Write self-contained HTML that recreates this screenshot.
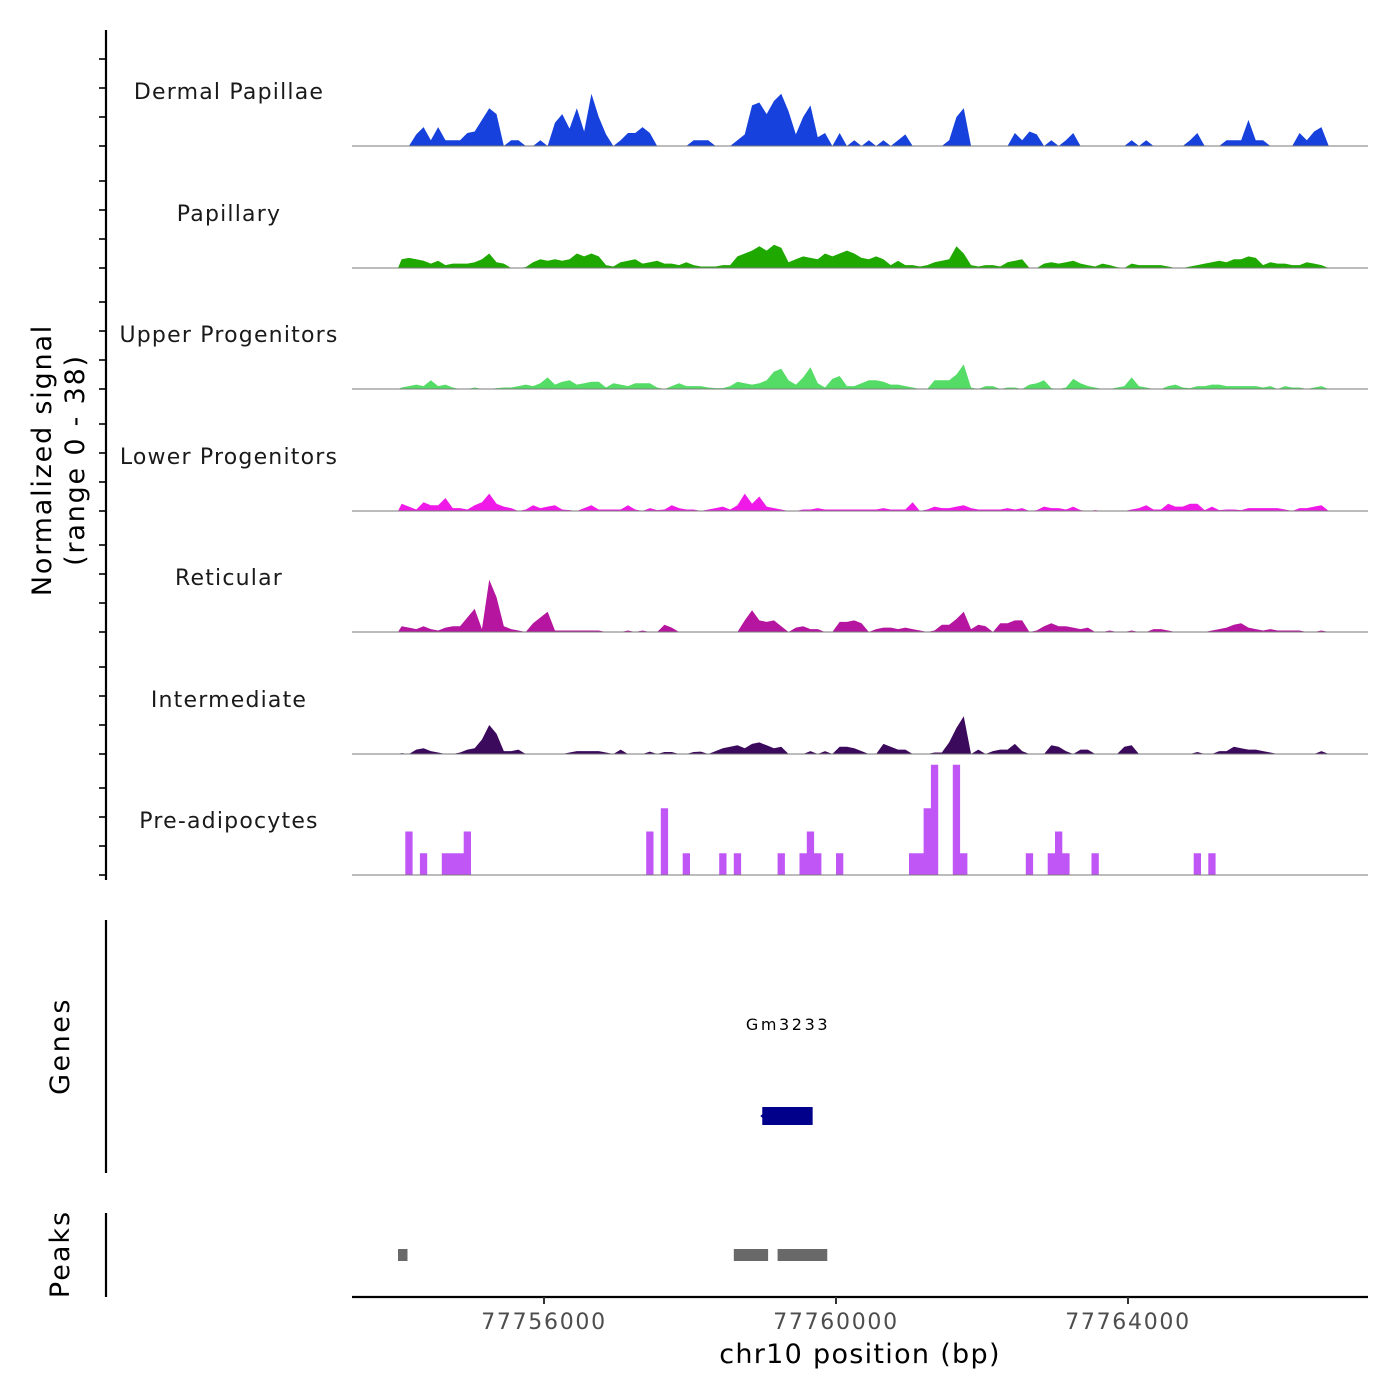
<!DOCTYPE html>
<html><head><meta charset="utf-8"><style>
html,body{margin:0;padding:0;background:#fff;}
svg{display:block;font-family:"DejaVu Sans","Liberation Sans",sans-serif;}
</style></head><body>
<svg id="chart" width="1400" height="1400" viewBox="0 0 1400 1400">
<g id="tracks"></g>
<g id="axes"></g>
</svg>
<script>
const binStart = 77754000;
const binSize = 100;
const trackNames = ["Dermal Papillae","Papillary","Upper Progenitors","Lower Progenitors","Reticular","Intermediate","Pre-adipocytes"];
const xTicks = [77756000, 77760000, 77764000];
const xTickLabels = ["77756000","77760000","77764000"];
const dermal = [0,0,4,6.5,2,6.5,2,2,2,4.5,5,9,13,11,0,2,2,0,0,2,0,8,11,6,13,5,18,10,4,0,2,4.5,4.5,6.5,4.5,0,0,0,0,0,2,2,2,0,0,0,2,4,14,15,11,15.5,18,12,4,10,14,3,4.5,0,4.5,0,2,0,2,0,2,0,2,4,0,0,0,0,0,2,10,13,0,0,0,0,0,0,4.5,2,5,4,0,2,0,2,4.5,0,0,0,0,0,0,0,2,0,2,0,0,0,0,0,2,4.5,0,0,0,2,2,2,9,2,2,0,0,0,0,4.5,2,5,6.5,0];
const papillary = [3,3.5,3,2.5,1.5,2.5,1,1.5,1.5,1.5,2,3,5,2,1.5,0,0,0.3,2,3,2.5,3,2.5,3,5,4,5,4,1,0.5,2,2.5,3,1.5,2,2.5,1.5,1.5,1,2,1,0.5,0.5,0.5,1,1,4,5,6,7.5,6,8,7,2,3,4,3.5,3,5,4,5,6,5,3.5,3,4,3,1,2.5,1,1,0.5,1,2,2.5,3,7.5,5,1,0.5,1,1,0.5,2,2.5,3,0,0,1.5,2,1.5,2,2.5,1.5,1,0.5,1.5,1,0.3,0,1.5,1,1,1,1,0.5,0,0,0.5,1,1.5,2,2.5,2,3,3,4,3.5,1,2,1.5,1.5,1,1,2,1.5,1,0];
const upper = [0.5,1,1.5,1,3,1,1.5,0.5,0,0,0.5,0,0,0.3,0.5,0.5,1,1.5,1,2,4,1.5,2.5,3,1.5,2,2.5,2.5,0.5,2,1.5,1,2,2,2,0.5,0,1,2,1,1,1,0.5,0.3,0.3,1,2.5,2,1.5,2,3,6,7,3,1.5,4,7.5,2,0.5,3.5,4.5,1,1,2,3,3,2.5,1.5,1.5,1,0.5,0,0,3,3,3,5,8.5,0.5,0,1,1,0,0.5,0.5,0,1.5,2,3,0.3,0,0.5,3.5,2,1,0.5,0,0,0.5,1,4,1,0.5,0,0,1,1.5,0.5,0.3,1,1,1.5,1.5,1,1,1,1,1,0.5,1,0,1,0.5,0.5,0,0.5,1,0];
const lower = [2.5,1.5,0.5,3,2,2,4.5,1,1,0.5,2,3,6,2.5,1.5,1,0,0.5,2,1,1.5,2,0.5,0.3,0,1,2,0.5,0.5,0.5,0.5,2,0.5,0,1,0.3,0.5,2,1,0.5,0.5,0,0.5,1,1.5,0.5,2,6,2.5,5,1.5,1,0.5,0,0,0.5,0.5,1,0.5,0.5,0.5,0.5,0.5,0.5,0.5,0.5,1,0.5,0.5,0.5,3,0,0.5,1.5,1,1,1.5,2,1,0.5,0.5,0.5,0.5,1,0.5,1,0,0.3,1.5,1,1,0.5,1.5,0.3,0,0.3,0,0,0,0,0.5,1,2,0.5,0.5,2.5,1.5,1.5,2.5,2.5,0.3,1.5,0.3,0.5,0.5,0.3,1,1,1,1,1,0.5,0,1,1,1.5,2,0];
const reticular = [2,1.5,1,2,1,0.5,1.5,2,2,5,8,1,18,12,2,1,0.5,0,3,5,7,0.5,0.5,0.5,0.5,0.5,0.5,0.5,0,0,0,0.5,0,0.5,0,0,2.5,1.5,0,0,0,0,0,0,0,0,0,4,7.5,4,3.5,4,2,0,1.5,2,1,1,0,0,3.5,3.5,4,3,0,1,1.5,1.5,1,1.5,1,0.5,0,0.5,2.5,2.5,4.5,7,1,2.5,2,0,3,3,4,4,0,0.5,2,3,2,2,1.5,1,1.5,0,0,0.5,0,0,0.5,0,0,1,1,0.5,0,0,0,0,0,0.5,1,1.5,2.5,3,1.5,1,0.5,1,0.5,0.5,0.5,0.5,0,0,0.5,0];
const intermediate = [0.3,0,1.5,2,1,0.5,0,0,0.5,1.5,2,5,10,7,1,1,1.5,0,0,0,0,0,0,0.5,1,1,1,1,0.5,0,1.5,0,0,0,0.8,0,0.7,0.7,0,0,0.7,0.8,0,1,2,2.5,3,2,3.5,4,3,2,2.5,0,0,0,1,0,1,0,2.5,2.5,2,1,0,0,3.5,2.5,1.5,1.5,0,0,0,0.5,0.5,4,9,13,0,1.5,0,1,1.5,1.5,3.5,1,0,0,0,3,2.5,1,0,1.5,1.5,0,0,0,0,2.5,3,0,0,0,0,0,0,0,0,0.7,0,0,1,1,2.5,2,1.5,1.5,1,0.5,0,0,0,0,0,0,1,0];
const preadipo = [0,15,0,7.5,0,0,7.5,7.5,7.5,15,0,0,0,0,0,0,0,0,0,0,0,0,0,0,0,0,0,0,0,0,0,0,0,0,15,0,23,0,0,7.5,0,0,0,0,7.5,0,7.5,0,0,0,0,0,7.5,0,0,7.5,15,7.5,0,0,7.5,0,0,0,0,0,0,0,0,0,7.5,7.5,23,38,0,0,38,7.5,0,0,0,0,0,0,0,0,7.5,0,0,7.5,15,7.5,0,0,0,7.5,0,0,0,0,0,0,0,0,0,0,0,0,0,7.5,0,7.5,0,0,0,0,0,0,0,0,0,0,0,0,0,0,0,0];
const trackColors = ["#1741dc","#1ea800","#55dc66","#f01ae8","#b5159f","#3c0a5c","#c156f6"];
const peakStarts = [77754000, 77758600, 77759200];
const peakEnds = [77754130, 77759070, 77759880];
const geneName = "Gm3233";
const geneStart = 77758990;
const geneEnd = 77759680;

const series = [dermal,papillary,upper,lower,reticular,intermediate,preadipo];
const stepped = [false,false,false,false,false,false,true];
const NS = "http://www.w3.org/2000/svg";
const X0 = 352, X1 = 1368;
const xScale = bp => 544 + (bp - 77756000) * 292 / 4000;
const pxPerUnit = 2.9;
const baselines = [146,268,389,511,632,754,875];
const yScale = (v, t) => baselines[t] - v * pxPerUnit;
function mk(tag, attrs, parent){const e=document.createElementNS(NS,tag);for(const k in attrs)e.setAttribute(k,attrs[k]);parent.appendChild(e);return e;}
const tracks = document.getElementById('tracks');
const axes = document.getElementById('axes');

series.forEach((vals, t) => {
  const g = mk('g', {}, tracks);
  
  
  let d = 'M' + xScale(binStart) + ',' + baselines[t];
  vals.forEach((v, i) => {
    const xa = xScale(binStart + i*binSize), xb = xScale(binStart + (i+1)*binSize);
    const y = yScale(v, t);
    if (stepped[t]) {
      d += ' L' + xa.toFixed(2) + ',' + y.toFixed(2) + ' L' + xb.toFixed(2) + ',' + y.toFixed(2);
    } else {
      d += ' L' + ((xa+xb)/2).toFixed(2) + ',' + y.toFixed(2);
    }
  });
  d += ' L' + xScale(binStart + vals.length*binSize).toFixed(2) + ',' + baselines[t] + ' Z';
  const p = mk('path', {d: d, fill: trackColors[t], stroke: 'none'}, g);
  
  
  const bl = mk('line', {x1: X0, x2: X1, y1: baselines[t], y2: baselines[t], stroke: '#7a7a7a', 'stroke-width': 1}, g);
  
  
  const lab = mk('text', {x: 229, y: baselines[t] - 47, 'text-anchor': 'middle', 'font-size': 22, fill: '#1a1a1a', 'letter-spacing': '1.2'}, g);
  lab.textContent = trackNames[t];
  
  
  for (let k = 0; k < 4; k++) {
    const ty = yScale(k*10, t);
    const tk = mk('line', {x1: 99, x2: 106, y1: ty, y2: ty, stroke: '#333', 'stroke-width': 2}, g);
    
    
  }
});

[[30,880],[920,1173],[1213,1297]].forEach(([a,b]) => {
  const l = mk('line', {x1: 106, x2: 106, y1: a, y2: b, stroke: '#000', 'stroke-width': 2.2}, axes);
  
  
});
const yt = mk('text', {transform: 'translate(51,460) rotate(-90)', 'text-anchor': 'middle', 'font-size': 27, fill: '#000', 'letter-spacing': '1.8'}, axes);


const ts1 = mk('tspan', {x: 0, dy: 0}, yt); ts1.textContent = 'Normalized signal';
const ts2 = mk('tspan', {x: 0, dy: 33}, yt); ts2.textContent = '(range 0 - 38)';
const gt = mk('text', {transform: 'translate(69,1046) rotate(-90)', 'text-anchor': 'middle', 'font-size': 27, fill: '#000', 'letter-spacing': '2.5'}, axes);
gt.textContent = 'Genes';


const pt = mk('text', {transform: 'translate(69,1254) rotate(-90)', 'text-anchor': 'middle', 'font-size': 27, fill: '#000', 'letter-spacing': '2'}, axes);
pt.textContent = 'Peaks';



const gl = mk('text', {x: 788, y: 1030, 'text-anchor': 'middle', 'font-size': 16, fill: '#000', 'letter-spacing': '2.6'}, axes);
gl.textContent = geneName;


const gr = mk('rect', {x: xScale(geneStart), y: 1107, width: xScale(geneEnd)-xScale(geneStart), height: 18, fill: '#00008b'}, axes);


const ga = mk('path', {d: 'M' + (xScale(geneStart)-2) + ',1116 L' + (xScale(geneStart)+4) + ',1111 L' + (xScale(geneStart)+4) + ',1121 Z', fill: '#00008b'}, axes);



peakStarts.forEach((s, i) => {
  const r = mk('rect', {x: xScale(s), y: 1249, width: xScale(peakEnds[i]) - xScale(s), height: 12, fill: '#696969'}, axes);
  
  
});

const xa = mk('line', {x1: X0, x2: X1, y1: 1297, y2: 1297, stroke: '#000', 'stroke-width': 2.2}, axes);


xTicks.forEach((v, i) => {
  const x = xScale(v);
  const tk = mk('line', {x1: x, x2: x, y1: 1297, y2: 1304, stroke: '#333', 'stroke-width': 2}, axes);
  
  
  const tl = mk('text', {x: x, y: 1329, 'text-anchor': 'middle', 'font-size': 22, fill: '#4d4d4d', 'letter-spacing': '1.7'}, axes);
  tl.textContent = xTickLabels[i];
  
  
});
const xt = mk('text', {x: 860, y: 1363, 'text-anchor': 'middle', 'font-size': 27, fill: '#000', 'letter-spacing': '1.3'}, axes);
xt.textContent = 'chr10 position (bp)';


</script>
</body></html>
